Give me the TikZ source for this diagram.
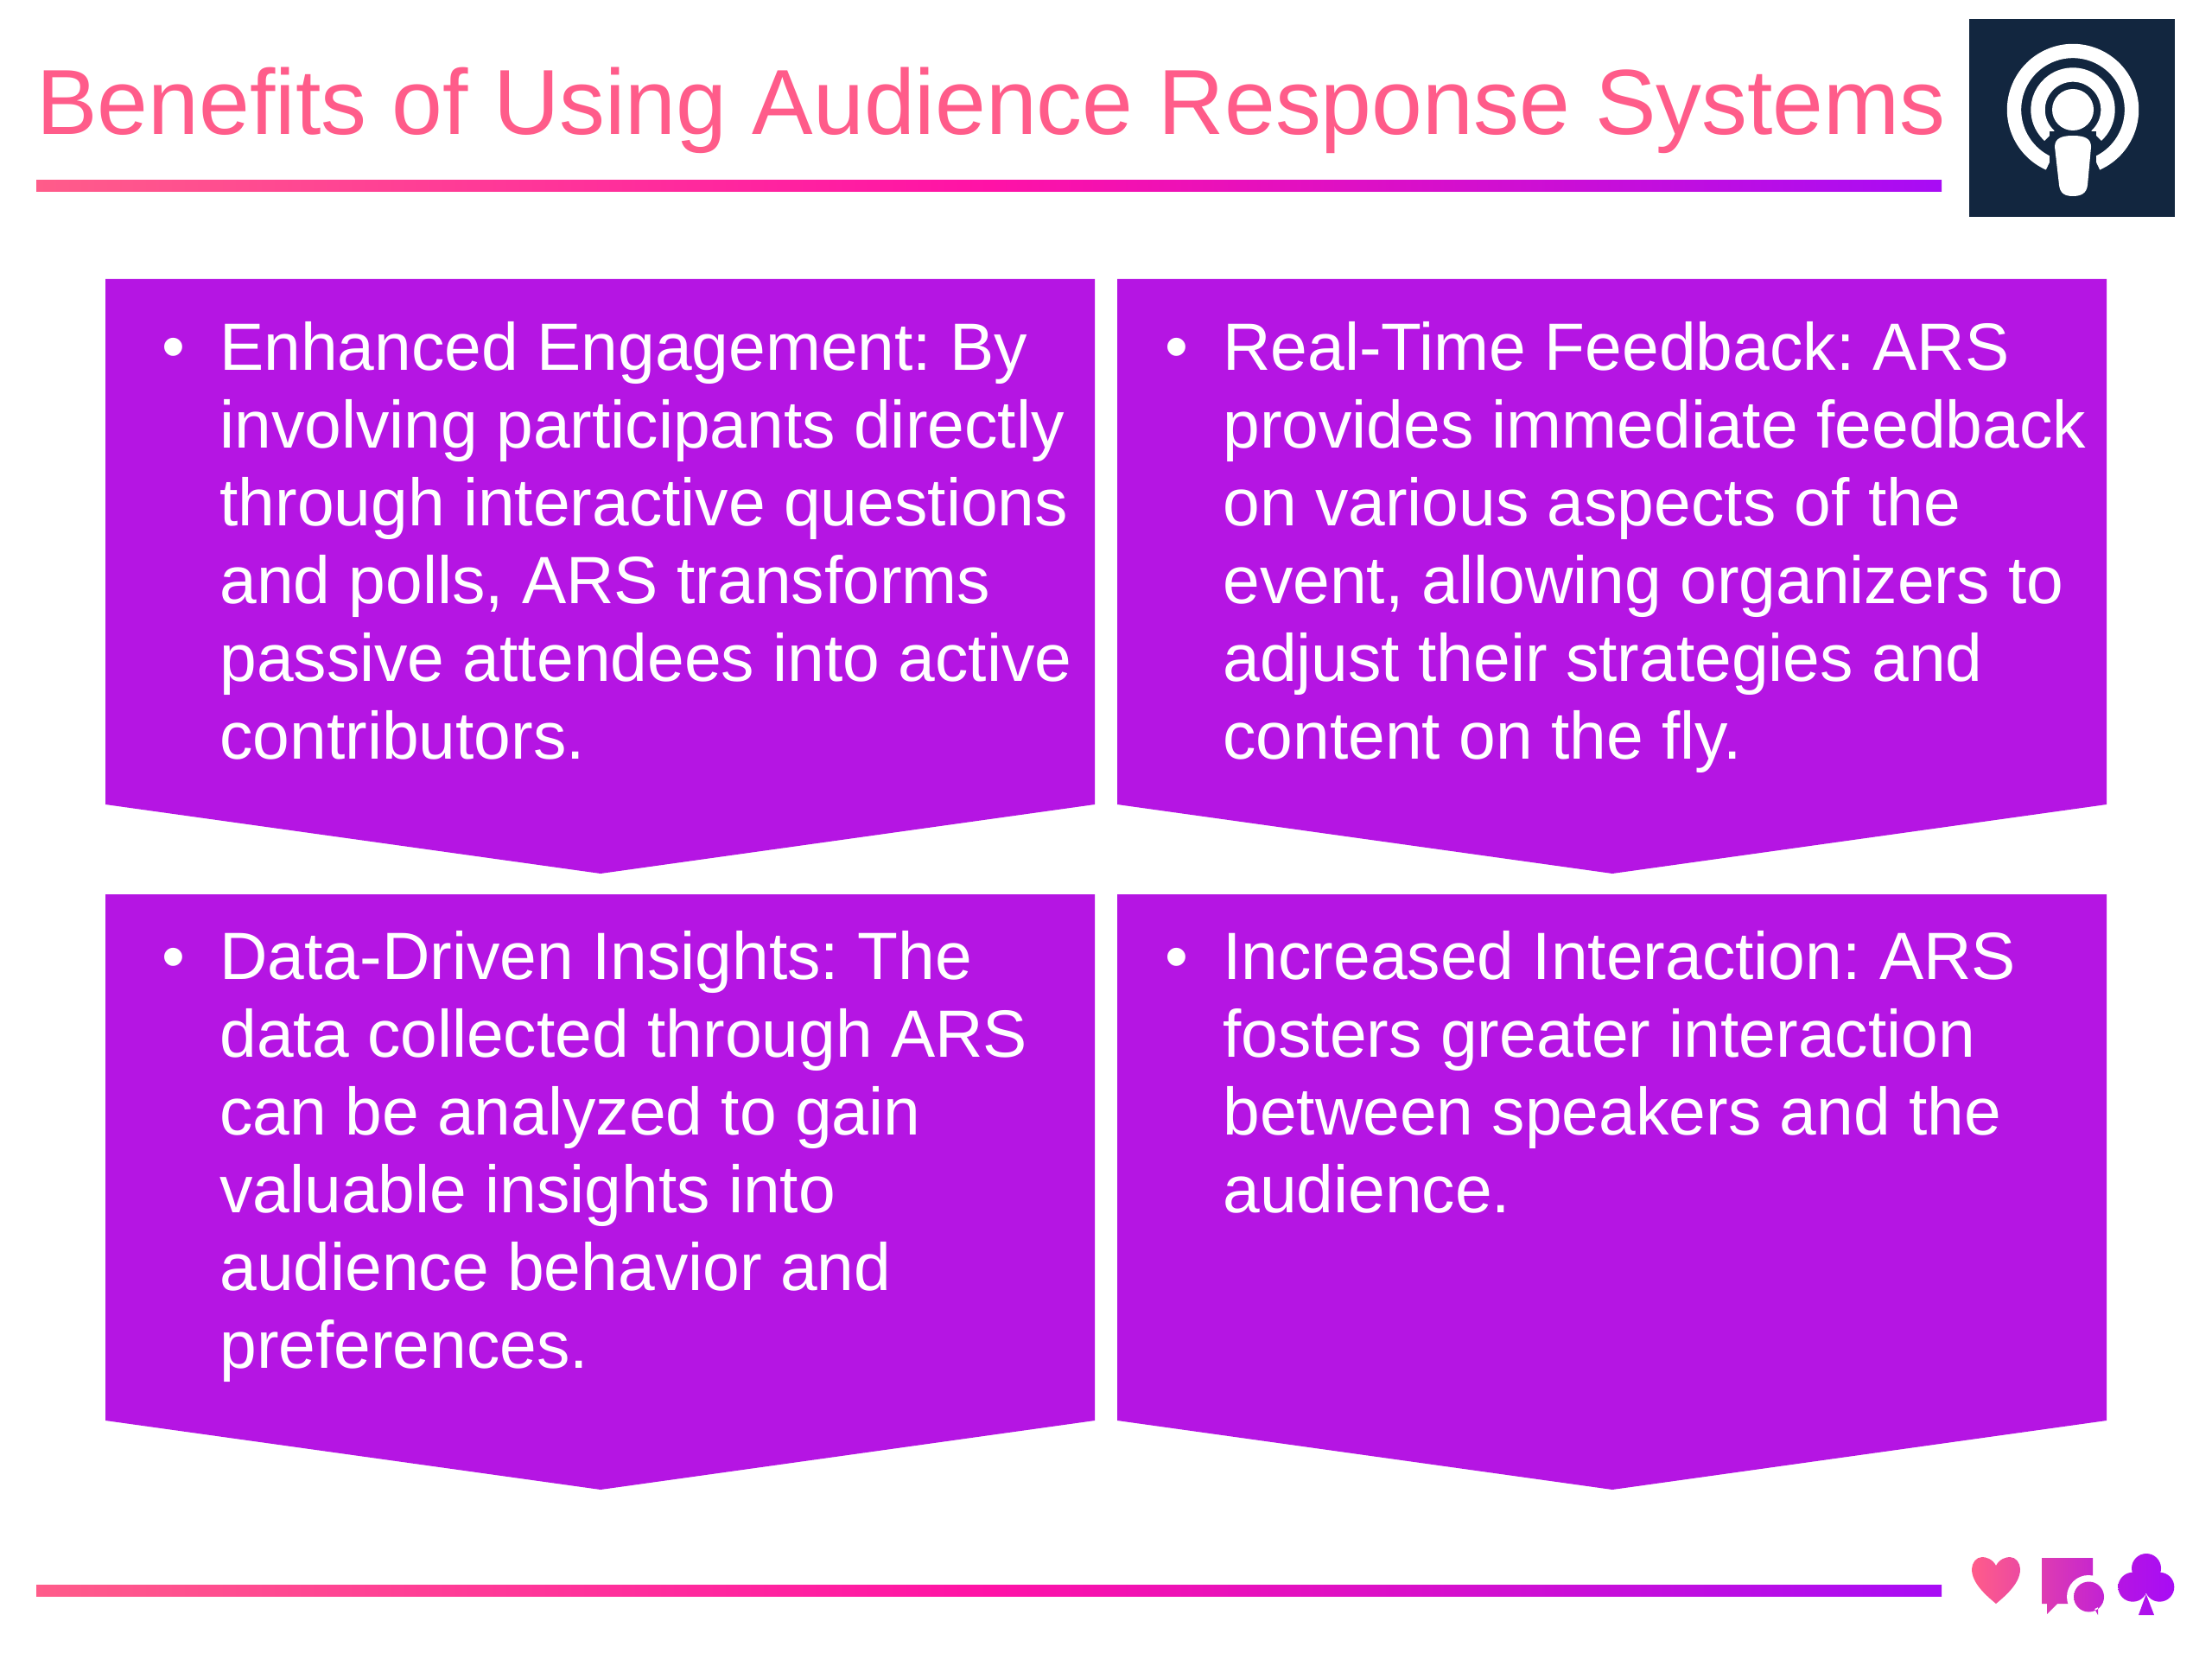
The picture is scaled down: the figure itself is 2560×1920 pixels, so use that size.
\documentclass[tikz,border=0pt]{standalone}
\usepackage{fontspec}
\setmainfont{Liberation Sans}
\newfontfamily\titlefont[FakeStretch=0.988]{Liberation Sans}
\newfontfamily\bodyfont[FakeStretch=0.992]{Liberation Sans}
\usepackage{xcolor}
\usetikzlibrary{positioning}
\frenchspacing
\definecolor{RespPink}{HTML}{FF5C8A}
\definecolor{RespHot}{HTML}{FF12A6}
\definecolor{RespViolet}{HTML}{A80CF5}
\definecolor{RespBox}{HTML}{B515E3}
\definecolor{RespNavy}{HTML}{12263F}
\tikzset{
  titletext/.style={anchor=base west, inner sep=0pt, text=RespPink, font=\titlefont\fontsize{53.5}{60}\selectfont},
  bodytext/.style={anchor=base west, inner sep=0pt, text=white, align=left, font=\bodyfont\fontsize{38.7}{45}\selectfont},
  dottext/.style={anchor=base, inner sep=0pt, text=white, font=\bodyfont\fontsize{38.7}{45}\selectfont},
  rulebar/.style={left color=RespPink, right color=RespViolet, middle color=RespHot},
  boxfill/.style={fill=RespBox},
  ringline/.style={draw=white, line width=8.2pt}
}
\begin{document}
\begin{tikzpicture}[x=0.5pt, y=-0.5pt]
  \useasboundingbox (0,0) rectangle (2560,1920);
  \fill[white] (0,0) rectangle (2560,1920);

  % Title
  \node[titletext] (title) at (42,156) {Benefits of Using Audience Response Systems};
  \shade[rulebar] (42,209) rectangle (2247,222);
  \shade[rulebar] (42,1834) rectangle (2247,1847);

  % Boxes
  \foreach \lft/\rgt/\tip/\top/\sho/\pnt in {
      122/1267/695/323/931/1011,
      1293/2438/1866/323/931/1011,
      122/1267/695/1035/1644/1724,
      1293/2438/1866/1035/1644/1724}
    \fill[boxfill] (\lft,\top) -- (\rgt,\top) -- (\rgt,\sho) -- (\tip,\pnt) -- (\lft,\sho) -- cycle;

  % Text
  \node[dottext] (dotA) at (201,428) {•};
  \node[bodytext] (engage) at (254,878) {Enhanced Engagement: By\\involving participants directly\\through interactive questions\\and polls, ARS transforms\\passive attendees into active\\contributors.};
  \node[dottext] (dotB) at (1362,428) {•};
  \node[bodytext] (feedback) at (1415,878) {Real-Time Feedback: ARS\\provides immediate feedback\\on various aspects of the\\event, allowing organizers to\\adjust their strategies and\\content on the fly.};
  \node[dottext] (dotC) at (201,1133) {•};
  \node[bodytext] (insights) at (254,1583) {Data-Driven Insights: The\\data collected through ARS\\can be analyzed to gain\\valuable insights into\\audience behavior and\\preferences.};
  \node[dottext] (dotD) at (1362,1133) {•};
  \node[bodytext] (interact) at (1415,1403) {Increased Interaction: ARS\\fosters greater interaction\\between speakers and the\\audience.};

  % Podcast icon
  \fill[RespNavy] (2279,22) rectangle (2517,251);
  \coordinate (iconc) at (2399,127);
  \draw[ringline] ([shift={(66:68)}]iconc) arc[start angle=66, end angle=-246, radius=68];
  \draw[ringline] ([shift={(48:40.5)}]iconc) arc[start angle=48, end angle=-228, radius=40.5];
  \fill[white] (iconc) circle (24);
  \fill[RespNavy] (2372,152) -- (2426,152) -- (2426,200) -- (2372,200) -- cycle;
  \fill[white] (2399,157) .. controls (2412,157) and (2420,160) .. (2420,170)
    -- (2416,214) .. controls (2415,224) and (2408,227) .. (2399,227)
    .. controls (2390,227) and (2384,224) .. (2383,214)
    -- (2378,170) .. controls (2378,160) and (2386,157) .. (2399,157) -- cycle;

  % Small icons
  \shade[left color=RespPink, right color=RespPink!75!RespBox]
    (2310,1812) .. controls (2314,1804) and (2322,1802) .. (2326,1802)
    .. controls (2333,1802) and (2338,1809) .. (2338,1816)
    .. controls (2338,1832) and (2322,1846) .. (2310,1856)
    .. controls (2298,1846) and (2282,1832) .. (2282,1816)
    .. controls (2282,1809) and (2287,1802) .. (2294,1802)
    .. controls (2298,1802) and (2306,1804) .. (2310,1812) -- cycle;
  \shade[left color=RespPink!55!RespBox, right color=RespPink!25!RespBox]
    (2363,1803) -- (2422,1803) -- (2422,1856) -- (2381,1856) -- (2369,1868) -- (2369,1856) -- (2363,1856) -- cycle;
  \fill[white] (2417,1848) circle (25);
  \shade[left color=RespPink!35!RespBox, right color=RespPink!18!RespBox]
    (2417.5,1848) circle (17.5)
    (2424,1862) -- (2428,1869) -- (2428,1860) -- cycle;
  \shade[left color=RespBox, right color=RespViolet]
    (2484,1815) circle (17) (2468.3,1836.7) circle (17) (2499.3,1836.7) circle (17)
    (2483.7,1845) -- (2475,1869) -- (2493,1869) -- cycle;
\end{tikzpicture}
\end{document}
